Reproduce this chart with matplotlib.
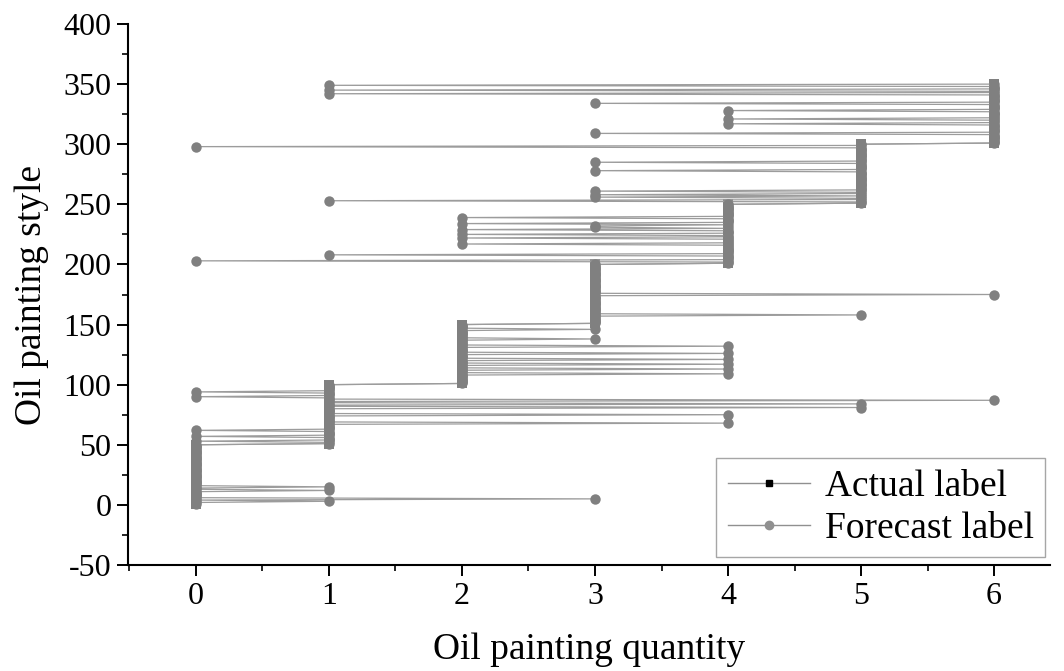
import numpy as np
import matplotlib
matplotlib.use("Agg")
import matplotlib.pyplot as plt
from matplotlib.lines import Line2D
from matplotlib.ticker import MultipleLocator

# ---- data ----
class_labels = [0, 1, 2, 3, 4, 5, 6]
samples_per_class = 50
# misclassified samples (1-based sample index) and their forecast label
wrong_index = [3, 5, 12, 15,
               53, 57, 62, 68, 75, 81, 84, 87, 90, 94,
               109, 113, 117, 121, 126, 132, 138, 146,
               158, 175,
               203, 208, 217, 222, 225, 229, 231, 232, 234, 239,
               253, 256, 258, 261, 278, 285, 298,
               309, 317, 321, 328, 334, 342, 345, 349]
wrong_forecast = [1, 3, 1, 1,
                  0, 0, 0, 4, 4, 5, 5, 6, 0, 0,
                  4, 4, 4, 4, 4, 4, 3, 3,
                  5, 6,
                  0, 1, 2, 2, 2, 2, 3, 3, 2, 2,
                  1, 3, 3, 3, 3, 3, 0,
                  3, 4, 4, 4, 3, 1, 1, 1]
x_ticks = [0, 1, 2, 3, 4, 5, 6]
y_ticks = [-50, 0, 50, 100, 150, 200, 250, 300, 350, 400]

sample_idx = np.arange(1, len(class_labels) * samples_per_class + 1)
actual = np.repeat(class_labels, samples_per_class)
forecast = actual.copy()
forecast[np.array(wrong_index) - 1] = wrong_forecast

# ---- style ----
plt.rcParams['font.family'] = ['Liberation Serif', 'DejaVu Serif']
plt.rcParams['axes.unicode_minus'] = False

fig = plt.figure(figsize=(10.64, 6.71), dpi=100)
ax = fig.add_axes([128 / 1064, (671 - 565) / 671, (1050 - 128) / 1064, (565 - 24) / 671])

mark_col = '#808080'
line_col = '#9c9c9c'
ax.plot(actual, sample_idx, color=line_col, lw=0.9, marker='s', markersize=7.5,
        markerfacecolor=mark_col, markeredgecolor=mark_col, markeredgewidth=0, zorder=2)
ax.plot(forecast, sample_idx, color=line_col, lw=0.9, marker='o', markersize=7.5,
        markerfacecolor=mark_col, markeredgecolor=mark_col, markeredgewidth=0, zorder=3)

ax.set_xlim(-0.51, 6.42)
ax.set_ylim(-50, 400)
ax.set_xticks(x_ticks)
ax.set_yticks(y_ticks)
ax.xaxis.set_minor_locator(MultipleLocator(0.5))
ax.yaxis.set_minor_locator(MultipleLocator(25))

for s in ['top', 'right']:
    ax.spines[s].set_visible(False)
for s in ['left', 'bottom']:
    ax.spines[s].set_linewidth(1.5)
    ax.spines[s].set_color('black')

ax.tick_params(which='major', direction='out', length=8, width=1.4, labelsize=23, pad=4)
ax.tick_params(which='minor', direction='out', length=4, width=1.2)

ax.set_xlabel('Oil painting quantity', fontsize=27, labelpad=16)
ax.set_ylabel('Oil painting style', fontsize=27, labelpad=10)

handles = [
    Line2D([], [], color='#909090', lw=1, marker='s', markersize=5,
           markerfacecolor='black', markeredgecolor='black'),
    Line2D([], [], color='#909090', lw=1, marker='o', markersize=6,
           markerfacecolor='#909090', markeredgecolor='#909090'),
]
leg = ax.legend(handles, ['Actual label', 'Forecast label'], loc='lower right',
                bbox_to_anchor=(0.995, 0.015), fontsize=27, frameon=True, fancybox=False,
                edgecolor='#909090', handlelength=2.2, handletextpad=0.4,
                borderpad=0.3, labelspacing=0.2, borderaxespad=0)
leg.get_frame().set_linewidth(1.0)

fig.savefig('out.png', dpi=100)
